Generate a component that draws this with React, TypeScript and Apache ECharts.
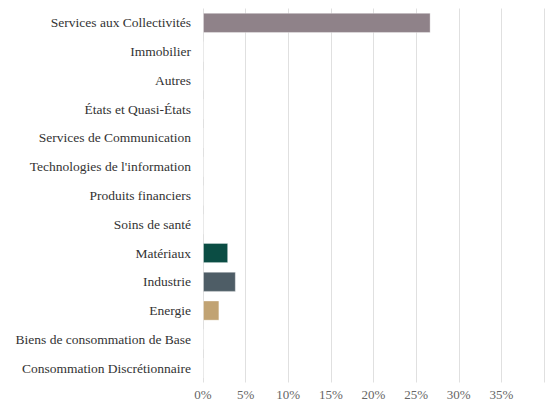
import React, { useEffect, useRef } from "react";
import * as echarts from "echarts";

const categories = [
  "Services aux Collectivités",
  "Immobilier",
  "Autres",
  "États et Quasi-États",
  "Services de Communication",
  "Technologies de l'information",
  "Produits financiers",
  "Soins de santé",
  "Matériaux",
  "Industrie",
  "Energie",
  "Biens de consommation de Base",
  "Consommation Discrétionnaire",
];
const values = [26.7, 0, 0, 0, 0, 0, 0, 0, 2.95, 3.85, 1.92, 0, 0];
const colors = [
  "#8f8289",
  "#8f8289",
  "#8f8289",
  "#8f8289",
  "#8f8289",
  "#8f8289",
  "#8f8289",
  "#8f8289",
  "#0b4d44",
  "#4e5d66",
  "#c1a373",
  "#8f8289",
  "#8f8289",
];
const tickMax = 40;
const tickStep = 5;

export default function App() {
  const ref = useRef<HTMLDivElement>(null);
  useEffect(() => {
    if (!ref.current) return;
    const chart = echarts.init(ref.current, undefined, { renderer: "svg" });
    chart.setOption({
      animation: false,
      grid: { left: 203, right: 5, top: 8.5, bottom: 22.5, containLabel: false },
      xAxis: {
        type: "value",
        min: 0,
        max: tickMax,
        interval: tickStep,
        axisLine: { show: false },
        axisTick: { show: false },
        splitLine: { show: true, lineStyle: { color: "#e0e0e0", width: 1 } },
        axisLabel: {
          color: "#666",
          fontFamily: "Liberation Serif",
          fontSize: 13,
          margin: 5,
          formatter: (v: number) => (v >= tickMax ? "" : v + "%"),
        },
      },
      yAxis: {
        type: "category",
        data: categories,
        inverse: true,
        axisLine: { show: false },
        axisTick: { show: false },
        splitLine: { show: false },
        axisLabel: {
          color: "#333",
          fontFamily: "Liberation Serif",
          fontSize: 13.5,
          margin: 12,
        },
      },
      series: [
        {
          type: "bar",
          data: values.map((v, i) => ({
            value: v,
            itemStyle: { color: colors[i], borderColor: "rgba(255,255,255,0.35)", borderWidth: 1 },
          })),
          barWidth: "70%",
        },
      ],
    });
    return () => chart.dispose();
  }, []);
  return (
    <div
      ref={ref}
      style={{ position: "absolute", left: 0, top: 0, width: 549, height: 405 }}
    />
  );
}
